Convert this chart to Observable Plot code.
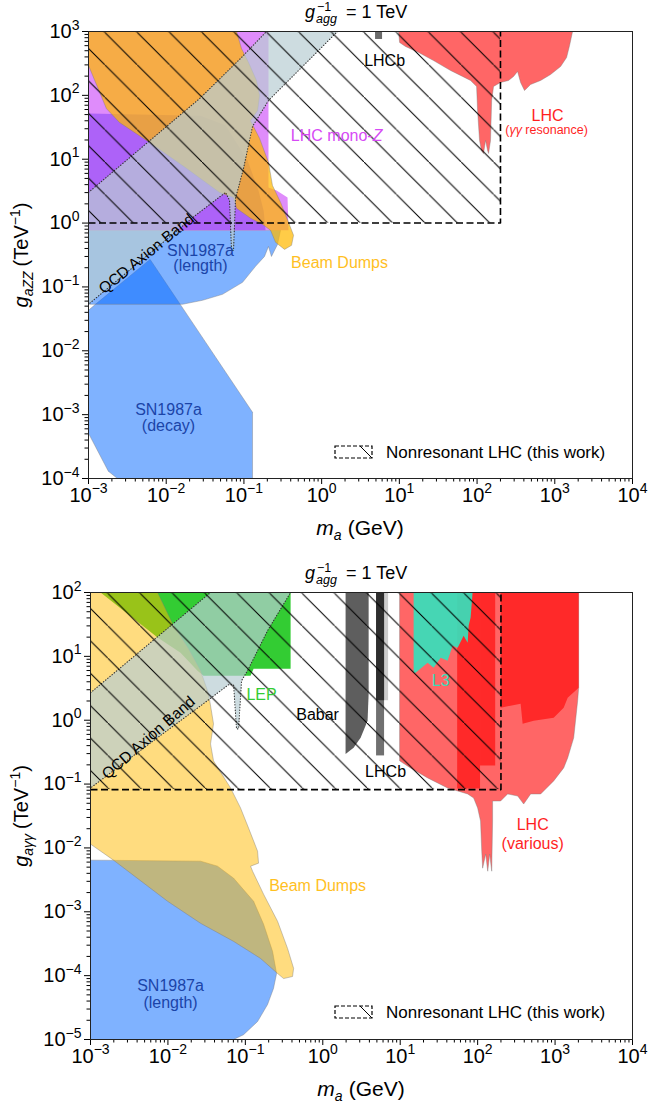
<!DOCTYPE html>
<html><head><meta charset="utf-8">
<script src="https://cdn.jsdelivr.net/npm/d3@7"></script>
<script src="https://cdn.jsdelivr.net/npm/@observablehq/plot@0.6"></script>
<style>
html,body{margin:0;padding:0;background:#fff;}
svg{display:block;}
</style></head><body><div id="chart"></div>
<script>
// ---------------- axis ticks ----------------
const xTicks = [1e-3, 1e-2, 1e-1, 1, 10, 100, 1e3, 1e4];
const xTickLabels = ["10^−3","10^−2","10^−1","10^0","10^1","10^2","10^3","10^4"];
const yTicksTop = [1e-4, 1e-3, 1e-2, 1e-1, 1, 10, 100, 1e3];
const yTickLabelsTop = ["10^−4","10^−3","10^−2","10^−1","10^0","10^1","10^2","10^3"];
const yTicksBot = [1e-5, 1e-4, 1e-3, 1e-2, 1e-1, 1, 10, 100];
const yTickLabelsBot = ["10^−5","10^−4","10^−3","10^−2","10^−1","10^0","10^1","10^2"];
const minorMult = [2, 3, 4, 5, 6, 7, 8, 9];

// ---------------- top panel (g_aZZ) regions: [m_a GeV, g TeV^-1] ----------------
const snDecayTop = [[1e-3,0.043],[0.00123,0.0535],[0.0062,0.27],[0.129,0.00109],[0.129,1e-4],[0.00236,1e-4],[0.0018,1.3e-4],[1e-3,5.1e-4]];
const snLengthTop = [[1e-3,0.77],[0.296,0.77],[0.27,0.46],[0.226,0.30],[0.207,0.43],[0.184,0.30],[0.141,0.21],[0.096,0.118],[0.053,0.0766],[0.0293,0.0617],[0.0162,0.0535],[1e-3,0.0535]];
const monoZLightTop = [[1e-3,1e3],[0.207,1e3],[0.207,3.62],[0.263,3.25],[0.364,2.52],[0.375,0.77],[1e-3,0.77]];
const monoZDarkTop = [[1e-3,52],[0.0276,48],[0.058,34],[0.111,9.6],[0.154,3.25],[0.179,1.58],[0.19,0.77],[1e-3,0.77]];
const beamTop = [[1e-3,1e3],[0.0804,1e3],[0.093,542],[0.1146,327],[0.145,171],[0.159,100],[0.150,58],[0.1216,40],[0.159,21.2],[0.207,8.9],[0.233,3.89],[0.296,2.11],[0.375,1.03],[0.435,0.643],[0.41,0.448],[0.333,0.387],[0.255,0.50],[0.22,0.77],[0.173,0.955],[0.1216,1.19],[0.0804,1.70],[0.0735,2.52],[0.0485,3.02],[0.0182,7.2],[0.0061,18.3],[0.0025,37.7],[0.0017,62],[1e-3,294]];
const lhcResTop = [[9.77,1e3],[10.07,673],[12.0,582],[17.7,469],[27.5,351],[45.6,245],[65,198],[82.4,171],[98.6,138],[101.5,58],[107.6,19.7],[114,13.7],[121,12.3],[128.6,19.7],[136.5,13.7],[140.6,12.3],[149,19.7],[154,83],[163,138],[200,159],[254,171],[295,198],[332,237],[363,159],[408,119],[488,148],[657,171],[883,212],[1188,283],[1419,392],[1550,604],[1694,1e3]];
const lhcbTop = {m1: 4.94, m2: 6.08, g1: 750, g2: 1e3};
const qcdTop = [[1e-3,3.02],[0.0269,89],[0.0904,378],[0.195,1e3],[1.6,1e3],[0.207,83],[0.129,32.6],[0.0989,7.2],[0.078,2.44],[0.0735,0.374],[0.0692,0.374],[0.0653,2.27],[0.058,3.02],[0.0238,1.32],[1e-3,0.0535]];
const hatchTop = {m1: 1e-3, m2: 200, g1: 1, g2: 1e3};
const dashTop = [[1e-3,1],[200,1],[200,1e3]];
const labelsTop = [
  {key:"lhcb", text:"LHCb", m:6.46, g:351},
  {key:"monoz", text:"LHC mono-Z", m:1.56, g:23.5},
  {key:"lhc", text:"LHC", m:807, g:48.4},
  {key:"res", text:"(γγ resonance)", m:784, g:28.2},
  {key:"snl", text:"SN1987a\n(length)", m:0.0276, g:0.28},
  {key:"beam", text:"Beam Dumps", m:1.70, g:0.234},
  {key:"snd", text:"SN1987a\n(decay)", m:0.0107, g:9.0e-4},
  {key:"qcd", text:"QCD Axion Band", m:0.00557, g:0.33}
];

// ---------------- bottom panel (g_aγγ) regions ----------------
const snLengthBot = [[1e-3,0.00644],[0.0264,0.00621],[0.0437,0.00518],[0.0705,0.00336],[0.1277,0.00146],[0.172,6.37e-4],[0.2245,2.4e-4],[0.253,1.08e-4],[0.231,6.3e-5],[0.1935,3.53e-5],[0.1438,1.91e-5],[0.0948,1.19e-5],[0.0705,1e-5],[1e-3,1e-5]];
const lepBot = [[0.00135,100],[0.384,100],[0.384,6.4],[0.1277,6.4],[0.1168,4.98],[0.0288,4.98],[0.0241,5.97],[0.01455,11.4],[0.00735,19.7]];
const beamBot = [[1e-3,100],[0.00735,100],[0.01146,32.6],[0.01845,13.2],[0.0264,5.97],[0.0335,2.6],[0.0388,0.877],[0.0355,0.426],[0.0388,0.231],[0.0644,0.0869],[0.0867,0.0422],[0.11,0.0205],[0.1438,0.0089],[0.148,0.00577],[0.1168,0.00518],[0.124,0.00432],[0.172,0.00188],[0.2606,7.1e-4],[0.3508,2.67e-4],[0.42,1.3e-4],[0.407,9.7e-5],[0.312,9.0e-5],[0.2606,1.08e-4],[0.157,1.86e-4],[0.0705,3.44e-4],[0.0264,6.6e-4],[0.0099,0.00146],[0.00198,0.00644],[1e-3,0.01148]];
const babarBot = [[1.97,100],[3.91,100],[3.91,2.6],[3.79,0.978],[3.08,0.53],[2.5,0.369],[1.97,0.297]];
const lhcbBot = {m1: 4.95, m2: 6.28, g1: 0.276, g2: 100};
const lhcbDarkBot = {m1: 4.95, m2: 6.28, g1: 2.02, g2: 100};
const lhcbStripBot = {m1: 6.28, m2: 7.08, g1: 2.02, g2: 100};
const lhcBigBot = [[9.82,100],[9.82,0.231],[13.6,0.179],[22.6,0.125],[40.9,0.0869],[55.2,0.078],[74.3,0.07],[88.8,0.0605],[100,0.0422],[109,0.0264],[113,0.0089],[116,0.00482],[127,0.008],[135,0.00432],[143,0.008],[152,0.00432],[156,0.0264],[156,0.0543],[198,0.0543],[244,0.07],[329,0.065],[393,0.0487],[484,0.07],[652,0.07],[960,0.112],[1292,0.179],[1455,0.257],[1592,0.369],[1740,0.53],[1958,2.02],[2018,3.23],[2018,100]];
const lhcR2Bot = {m1: 55.2, m2: 109, g1: 0.0838, g2: 100};
const lhcR3Bot = {m1: 109, m2: 171, g1: 0.192, g2: 100};
const lhcR4Bot = [[198,100],[2018,100],[2018,3.23],[1455,2.25],[1292,1.57],[960,1.09],[530,0.978],[381,0.877],[359,1.81],[198,1.57]];
const l3Bot = [[14.9,100],[86,100],[81.2,40.5],[76.6,30.3],[74.3,16.4],[65.9,21.1],[55.2,13.7],[47.5,14.7],[40.9,8.57],[33.3,9.55],[27,6.65],[22.6,7.96],[15.8,5.55],[14.9,5.55]];
const qcdBot = [[1e-3,2.69],[0.0355,100],[0.384,100],[0.1935,25.3],[0.1066,5.97],[0.0893,4.16],[0.0817,0.733],[0.0769,0.733],[0.0705,3.6],[0.0607,3.6],[0.0264,1.68],[0.00596,0.442],[1e-3,0.0869]];
const hatchBot = {m1: 1e-3, m2: 200, g1: 0.082, g2: 100};
const dashBot = [[1e-3,0.082],[200,0.082],[200,100]];
const labelsBot = [
  {key:"lep", text:"LEP", m:0.162, g:2.5},
  {key:"babar", text:"Babar", m:0.857, g:1.22},
  {key:"lhcb", text:"LHCb", m:6.47, g:0.155},
  {key:"l3", text:"L3", m:33.3, g:4.16},
  {key:"lhcv", text:"LHC\n(various)", m:514, g:0.0171},
  {key:"beam", text:"Beam Dumps", m:0.857, g:0.00251},
  {key:"snl", text:"SN1987a\n(length)", m:0.0108, g:5.16e-5},
  {key:"qcd", text:"QCD Axion Band", m:0.0056, g:0.53}
];

// ---------------- styling ----------------
const FONT = "'Liberation Sans', Arial, Helvetica, sans-serif";
const BLUE = "rgb(0,102,255)";
const edge = {stroke: "#777", strokeOpacity: 0.5, strokeWidth: 0.8};
const labelStyles = {
  lhcb: {fill: "#000", fontSize: 16},
  monoz: {fill: "#d64af5", fontSize: 16},
  lhc: {fill: "#ff1f1f", fontSize: 16},
  res: {fill: "#ff1f1f", fontSize: 12.5},
  snl: {fill: "#1b44a8", fontSize: 16, lineHeight: 0.95},
  snd: {fill: "#1b44a8", fontSize: 16, lineHeight: 1.0},
  beam: {fill: "#ffc01f", fontSize: 16},
  qcd: {fill: "#000", fontSize: 15.5, rotate: -39},
  lep: {fill: "#33cc33", fontSize: 16},
  babar: {fill: "#000", fontSize: 16},
  l3: {fill: "#38dbb8", fontSize: 16},
  lhcv: {fill: "#ff1f1f", fontSize: 16, lineHeight: 1.2}
};
const labelStylesBot = {...labelStyles, qcd: {fill: "#000", fontSize: 15.5, rotate: -41}, snl: {fill: "#1b44a8", fontSize: 16, lineHeight: 1.1}};

const closed = a => a.concat([a[0]]);
function region(data, fill, o = {}) {
  return Plot.line(closed(data), {x: d => d[0], y: d => d[1], fill, stroke: "none", curve: "linear", ...o});
}
function box(obj, o) {
  return Plot.rect([obj], {x1: "m1", x2: "m2", y1: "g1", y2: "g2", ...o});
}
function labelMarks(list, styles) {
  return list.map(d => Plot.text([d], {x: "m", y: "g", text: "text", ...styles[d.key]}));
}
function minors(ticks) {
  const out = [];
  for (let i = 0; i < ticks.length - 1; i++) for (const k of minorMult) out.push(ticks[i] * k);
  return out;
}
function axes(yTicks, yLabels) {
  const fmt = (ticks, labels) => d => labels[ticks.findIndex(t => Math.abs(t / d - 1) < 1e-9)];
  return [
    Plot.axisX({ticks: xTicks, tickFormat: fmt(xTicks, xTickLabels), tickSize: 6, tickPadding: 3, fontSize: 20, label: null, anchor: "bottom"}),
    Plot.axisX({ticks: minors(xTicks), tickFormat: () => "", tickSize: 3.5, label: null, anchor: "bottom"}),
    Plot.axisY({ticks: yTicks, tickFormat: fmt(yTicks, yLabels), tickSize: 6, tickPadding: 3, fontSize: 20, label: null, anchor: "left"}),
    Plot.axisY({ticks: minors(yTicks), tickFormat: () => "", tickSize: 3.5, label: null, anchor: "left"})
  ];
}

function rich(sel, attrs, parts) {
  const t = sel.append("text");
  for (const [k, v] of Object.entries(attrs)) t.attr(k, v);
  for (const p of parts) {
    const ts = t.append("tspan").text(p.t);
    if (p.i) ts.attr("font-style", "italic");
    if (p.s) ts.attr("font-size", p.s);
    if (p.x != null) ts.attr("x", p.x);
    if (p.y != null) ts.attr("y", p.y);
    if (p.dx) ts.attr("dx", p.dx);
    if (p.dy) ts.attr("dy", p.dy);
  }
  return t;
}

function finish(svg, o) {
  const s = d3.select(svg);
  // hatch pattern
  const defs = s.insert("defs", ":first-child");
  const p = defs.append("pattern").attr("id", o.hatchId).attr("patternUnits", "userSpaceOnUse")
    .attr("width", 32.4).attr("height", 32.4).attr("patternTransform", `translate(${o.hatchShift},0)`);
  p.append("path").attr("d", "M-1,-1L33.4,33.4").attr("stroke", "#000").attr("stroke-width", 1);
  // superscripts in tick labels; italic parts of annotations
  s.selectAll("text").each(function () {
    const str = this.textContent;
    const sel = d3.select(this);
    if (str === "LHC mono-Z") {
      this.textContent = "LHC mono-";
      sel.append("tspan").attr("font-style", "italic").text("Z");
      return;
    }
    if (str === "(γγ resonance)") {
      this.textContent = "(";
      sel.append("tspan").attr("font-style", "italic").text("γγ");
      this.appendChild(document.createTextNode(" resonance)"));
      return;
    }
    const i = str.indexOf("^");
    if (i < 0) return;
    this.textContent = str.slice(0, i);
    sel.attr("font-size", 20).style("font-size", "20px");
    sel.append("tspan").attr("dy", "-0.6em").attr("font-size", "14px").style("font-size", "14px").text(str.slice(i + 1));
  });
  const g = s.append("g").attr("font-family", FONT).attr("fill", "#000").attr("text-anchor", "start");
  // title
  rich(g, {"font-size": 18, "text-anchor": "start"}, [
    {t: "g", i: 1, x: 305, y: 18},
    {t: "agg", i: 1, s: 12.5, x: 316, y: 23},
    {t: "−1", s: 12.5, x: 317, y: 11},
    {t: "= 1 TeV", x: 346, y: 18}
  ]);
  // y label
  rich(g, {"font-size": 20, "text-anchor": "middle", transform: "translate(28,255) rotate(-90)"}, [
    {t: "g", i: 1}, {t: o.ysub, i: 1, s: 14, dy: 5}, {t: "(TeV", dx: 5, dy: -5}, {t: "−1", s: 14, dy: -8}, {t: ")", dy: 8}
  ]);
  // x label
  rich(g, {"font-size": 21, "text-anchor": "middle", x: o.xc, y: 535}, [
    {t: "m", i: 1}, {t: "a", i: 1, s: 14, dy: 5}, {t: "(GeV)", dx: 6, dy: -5}
  ]);
  // legend
  const ly = o.legendY;
  g.append("rect").attr("x", 335).attr("y", ly - 6).attr("width", 37).attr("height", 12)
    .attr("fill", "white").attr("stroke", "#000").attr("stroke-width", 1.2).attr("stroke-dasharray", "4,2");
  g.append("line").attr("x1", 360).attr("y1", ly - 6).attr("x2", 372).attr("y2", ly + 6).attr("stroke", "#000").attr("stroke-width", 1);
  g.append("text").attr("x", 386).attr("y", ly).attr("dy", "0.35em").attr("font-size", 17).attr("text-anchor", "start").text("Nonresonant LHC (this work)");
  return svg;
}

function makePanel(o) {
  return Plot.plot({
    width: 648, height: o.height,
    marginTop: 31, marginLeft: o.ml, marginRight: 16, marginBottom: o.height - 478,
    style: {fontFamily: FONT, background: "white", color: "#000"},
    x: {type: "log", domain: [1e-3, 1e4], label: null},
    y: {type: "log", domain: o.ydomain, label: null},
    marks: [...o.marks, ...axes(o.yTicks, o.yLabels), Plot.frame({stroke: "#222", strokeWidth: 1})]
  });
}

const dashStyle = {x: d => d[0], y: d => d[1], stroke: "#000", strokeWidth: 1.6, strokeDasharray: "7,3.5", strokeLinecap: "butt"};
const bandStyle = {fillOpacity: 0.7, stroke: "#333", strokeWidth: 1.1, strokeDasharray: "0.5,2.3", strokeLinecap: "round"};

const topSvg = makePanel({
  height: 561, ml: 88, ydomain: [1e-4, 1e3], yTicks: yTicksTop, yLabels: yTickLabelsTop,
  marks: [
    region(snDecayTop, BLUE, {fillOpacity: 0.5, ...edge}),
    region(snLengthTop, BLUE, {fillOpacity: 0.5, ...edge}),
    region(monoZLightTop, "#df8cfb"),
    region(monoZDarkTop, "#ad62f8"),
    region(beamTop, "rgb(255,185,0)", {fillOpacity: 0.72, ...edge}),
    region(lhcResTop, "red", {fillOpacity: 0.6, ...edge}),
    box(lhcbTop, {fill: "#6a6a6a"}),
    region(qcdTop, "#b8cdd3", bandStyle),
    box(hatchTop, {fill: "url(#hatchT)"}),
    Plot.line(dashTop, dashStyle),
    ...labelMarks(labelsTop, labelStyles)
  ]
});
finish(topSvg, {hatchId: "hatchT", hatchShift: 7.6, ysub: "aZZ", xc: 360, legendY: 452});

const botSvg = makePanel({
  height: 542, ml: 90, ydomain: [1e-5, 1e2], yTicks: yTicksBot, yLabels: yTickLabelsBot,
  marks: [
    region(snLengthBot, BLUE, {fillOpacity: 0.5, ...edge}),
    region(lepBot, "#33cc33"),
    region(beamBot, "rgb(255,185,0)", {fillOpacity: 0.5, ...edge}),
    region(babarBot, "#5e5e5e"),
    box(lhcbBot, {fill: "#707070"}),
    box(lhcbDarkBot, {fill: "#2e2e2e"}),
    box(lhcbStripBot, {fill: "#000", fillOpacity: 0.2}),
    region(lhcBigBot, "red", {fillOpacity: 0.6, ...edge}),
    box(lhcR2Bot, {fill: "red", fillOpacity: 0.6}),
    box(lhcR3Bot, {fill: "red", fillOpacity: 0.6}),
    region(lhcR4Bot, "red", {fillOpacity: 0.6}),
    region(l3Bot, "#36dfbb", {fillOpacity: 0.92}),
    region(qcdBot, "#b8cdd3", bandStyle),
    box(hatchBot, {fill: "url(#hatchB)"}),
    Plot.line(dashBot, dashStyle),
    ...labelMarks(labelsBot, labelStylesBot)
  ]
});
finish(botSvg, {hatchId: "hatchB", hatchShift: 10.6, ysub: "aγγ", xc: 361, legendY: 451});

const root = document.getElementById("chart");
root.appendChild(topSvg);
root.appendChild(botSvg);
</script>
</body></html>
